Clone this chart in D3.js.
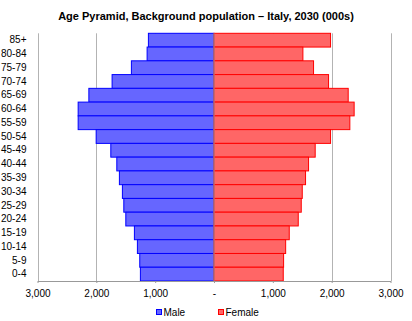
<!DOCTYPE html>
<html><head><meta charset="utf-8">
<script src="https://cdn.jsdelivr.net/npm/d3@7"></script>
<style>
body{margin:0;background:#fff;}
svg{display:block;font-family:"Liberation Sans",Arial,sans-serif;}
</style></head>
<body>
<svg id="chart" width="412" height="321"></svg>
<script>
const title = "Age Pyramid, Background population \u2013 Italy, 2030 (000s)";
const ageGroups = ["85+","80-84","75-79","70-74","65-69","60-64","55-59","50-54","45-49","40-44","35-39","30-34","25-29","20-24","15-19","10-14","5-9","0-4"];
const male   = [1115,1137,1404,1732,2127,2309,2309,2003,1754,1652,1608,1557,1533,1499,1353,1302,1262,1251];
const female = [1981,1511,1692,1947,2281,2382,2309,1981,1720,1607,1556,1500,1483,1432,1279,1218,1183,1177];
const tickValues = [-3000,-2000,-1000,0,1000,2000,3000];
const seriesNames = ["Male","Female"];

const svg = d3.select("#chart");
const m = {left:37.5, right:21.5, top:33.3, bottom:40};
const W = 412, H = 321;

const x = d3.scaleLinear().domain([-3000,3000]).range([m.left, W - m.right]);
const y = d3.scaleBand().domain(ageGroups).range([m.top, H - m.bottom]).paddingInner(0).paddingOuter(0);

// title
svg.append("text").attr("x",206).attr("y",20).attr("text-anchor","middle")
  .attr("font-size","11px").attr("font-weight","bold").text(title);

// vertical gridlines
svg.append("g").selectAll("line").data(tickValues).join("line")
  .attr("x1",d=>Math.round(x(d))+0.5).attr("x2",d=>Math.round(x(d))+0.5)
  .attr("y1",m.top).attr("y2",H-m.bottom)
  .attr("stroke","#b3b3b3").attr("stroke-width",1);

// bars
const bars = svg.append("g");
bars.selectAll("rect.m").data(male).join("rect").attr("class","m")
  .attr("x",d=>x(-d)).attr("width",d=>x(0)-x(-d))
  .attr("y",(d,i)=>y(ageGroups[i])).attr("height",y.bandwidth())
  .attr("fill","#6666ff").attr("stroke","#0000ff").attr("stroke-width",1);
bars.selectAll("rect.f").data(female).join("rect").attr("class","f")
  .attr("x",x(0)).attr("width",d=>x(d)-x(0))
  .attr("y",(d,i)=>y(ageGroups[i])).attr("height",y.bandwidth())
  .attr("fill","#ff6666").attr("stroke","#ff0000").attr("stroke-width",1);

// center axis
svg.append("line").attr("x1",x(0)).attr("x2",x(0)).attr("y1",m.top).attr("y2",H-m.bottom)
  .attr("stroke","#999").attr("stroke-width",1);

// bottom axis
const fmt = d => d===0 ? "-" : d3.format(",")(Math.abs(d));
const xAxis = svg.append("g").attr("transform",`translate(0,${H-m.bottom})`)
  .call(d3.axisBottom(x).tickValues(tickValues).tickFormat(fmt).tickSize(2).tickSizeOuter(0));
xAxis.select(".domain").attr("stroke","#999");
xAxis.selectAll(".tick line").attr("stroke","#999");
xAxis.selectAll("text").attr("font-size","10px").attr("fill","#000").attr("dy","1.1em")
  .attr("font-family","Liberation Sans, Arial, sans-serif");

// left category labels
const yAxis = svg.append("g").attr("transform",`translate(${m.left},0)`)
  .call(d3.axisLeft(y).tickSize(0).tickPadding(11));
yAxis.select(".domain").remove();
yAxis.selectAll("text").attr("font-size","10px").attr("fill","#000")
  .attr("font-family","Liberation Sans, Arial, sans-serif");

// legend
const legend = svg.append("g");
const lx = [156.5, 218.5], cols = [["#6666ff","#0000ff"],["#ff6666","#ff0000"]];
seriesNames.forEach((n,i)=>{
  legend.append("rect").attr("x",lx[i]).attr("y",309.5).attr("width",5).attr("height",5)
    .attr("fill",cols[i][0]).attr("stroke",cols[i][1]);
  legend.append("text").attr("x",lx[i]+7).attr("y",316).attr("font-size","10px").text(n);
});
</script>
</body></html>
